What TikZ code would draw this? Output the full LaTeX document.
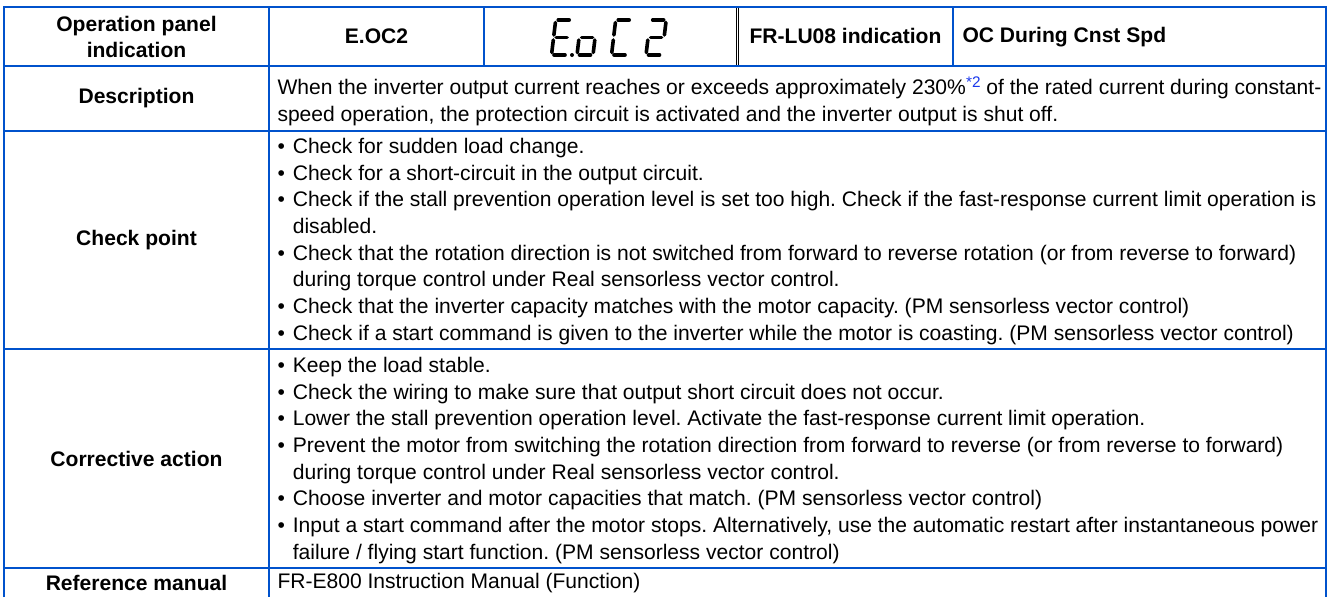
\documentclass[tikz,border=0pt]{standalone}
\usepackage{fontspec}
\setmainfont{Liberation Sans}
\frenchspacing

\definecolor{ruleblue}{RGB}{0,82,204}
\definecolor{noteblue}{RGB}{25,55,235}

\newcommand{\cellfont}{\fontsize{15.8}{20}\selectfont}
\newcommand{\bulitem}{\makebox[11.5pt][l]{•}}
\newcommand{\bulcont}{\hspace*{11.5pt}}
\newcommand{\notemark}[1]{\raisebox{5.5pt}{\fontsize{11.5}{12}\selectfont\color{noteblue}#1}}
% segments of one 7-segment digit (origin at bottom left)
\newcommand{\segA}{(2.5,-35) -- (13.5,-35)}
\newcommand{\segB}{(16,-32.5) -- (16,-20)}
\newcommand{\segC}{(16,-15) -- (16,-2.5)}
\newcommand{\segD}{(2.5,0) -- (13.5,0)}
\newcommand{\segE}{(0,-15) -- (0,-2.5)}
\newcommand{\segF}{(0,-32.5) -- (0,-20)}
\newcommand{\segG}{(2.5,-17.5) -- (13.5,-17.5)}

\tikzset{every picture/.style={line width=0.75pt}}
\tikzset{
  rule/.style={draw=ruleblue, line width=1.5pt},
  thinrule/.style={draw=black, line width=0.5pt},
  head/.style={font=\cellfont\bfseries, align=center, inner sep=0pt},
  body/.style={font=\cellfont, anchor=west, align=left, inner sep=0pt},
  seg/.style={line width=2.7pt, line cap=round}
}

\begin{document}
\begin{tikzpicture}[x=0.75pt,y=0.75pt,yscale=-1,xscale=1]
	\path[use as bounding box] (0,0) rectangle (1332,597);

	%Straight Lines - frame
	\draw[rule] (3.7,597) -- (3.7,6.7) -- (1325.7,6.7) -- (1325.7,597);
	%Straight Lines - row rules
	\draw[rule] (3.7,65.7) -- (1325.7,65.7);
	\draw[rule] (3.7,131) -- (1325.7,131);
	\draw[rule] (3.7,349) -- (1325.7,349);
	\draw[rule] (3.7,568) -- (1325.7,568);
	%Straight Lines - column rules
	\draw[rule] (269,6.7) -- (269,597);
	\draw[rule] (484,6.7) -- (484,65.7);
	\draw[rule] (953,6.7) -- (953,65.7);
	%Straight Lines - double rule
	\draw[thinrule] (736.3,7.5) -- (736.3,65);
	\draw[thinrule] (738.7,7.5) -- (738.7,65);

	%Shape: 7-segment display E.oC2
	\begin{scope}[shift={(551.5,55)}, xslant=-0.12]
		\foreach \s in {\segA,\segD,\segE,\segF,\segG} {\draw[seg] \s;}
	\end{scope}
	\fill (572,55) circle (2);
	\begin{scope}[shift={(577,55)}, xslant=-0.12]
		\foreach \s in {\segC,\segD,\segE,\segG} {\draw[seg] \s;}
	\end{scope}
	\begin{scope}[shift={(611.5,55)}, xslant=-0.12]
		\foreach \s in {\segA,\segD,\segE,\segF} {\draw[seg] \s;}
	\end{scope}
	\begin{scope}[shift={(646,55)}, xslant=-0.12]
		\foreach \s in {\segA,\segB,\segG,\segE,\segD} {\draw[seg] \s;}
	\end{scope}

	% Text Node
	\draw (136.5,37) node (opLbl) [head] {Operation panel\\indication};
	% Text Node
	\draw (376.5,36) node (codeLbl) [head] {E.OC2};
	% Text Node
	\draw (845.5,36) node (luLbl) [head] {FR-LU08 indication};
	% Text Node
	\draw (962,37) node (luText) [head, anchor=west] {OC During Cnst Spd};
	% Text Node
	\draw (136.5,98.4) node (descLbl) [head] {Description};
	% Text Node
	\draw (136.5,240) node (chkLbl) [head] {Check point};
	% Text Node
	\draw (136.5,458.5) node (corrLbl) [head] {Corrective action};
	% Text Node
	\draw (136.5,583) node (refLbl) [head] {Reference manual};

	% Text Node
	\draw (277,101) node (descText) [body] {When the inverter output current reaches or exceeds approximately 230\%\notemark{*2} of the rated current during constant-\\speed operation, the protection circuit is activated and the inverter output is shut off.};
	% Text Node
	\draw (277,241.5) node (chkText) [body] {\bulitem Check for sudden load change.\\
		\bulitem Check for a short-circuit in the output circuit.\\
		\bulitem Check if the stall prevention operation level is set too high. Check if the fast-response current limit operation is\\
		\bulcont disabled.\\
		\bulitem Check that the rotation direction is not switched from forward to reverse rotation (or from reverse to forward)\\
		\bulcont during torque control under Real sensorless vector control.\\
		\bulitem Check that the inverter capacity matches with the motor capacity. (PM sensorless vector control)\\
		\bulitem Check if a start command is given to the inverter while the motor is coasting. (PM sensorless vector control)};
	% Text Node
	\draw (277,460.5) node (corrText) [body] {\bulitem Keep the load stable.\\
		\bulitem Check the wiring to make sure that output short circuit does not occur.\\
		\bulitem Lower the stall prevention operation level. Activate the fast-response current limit operation.\\
		\bulitem Prevent the motor from switching the rotation direction from forward to reverse (or from reverse to forward)\\
		\bulcont during torque control under Real sensorless vector control.\\
		\bulitem Choose inverter and motor capacities that match. (PM sensorless vector control)\\
		\bulitem Input a start command after the motor stops. Alternatively, use the automatic restart after instantaneous power\\
		\bulcont failure / flying start function. (PM sensorless vector control)};
	% Text Node
	\draw (277,583) node (refText) [body] {FR-E800 Instruction Manual (Function)};

\end{tikzpicture}
\end{document}
